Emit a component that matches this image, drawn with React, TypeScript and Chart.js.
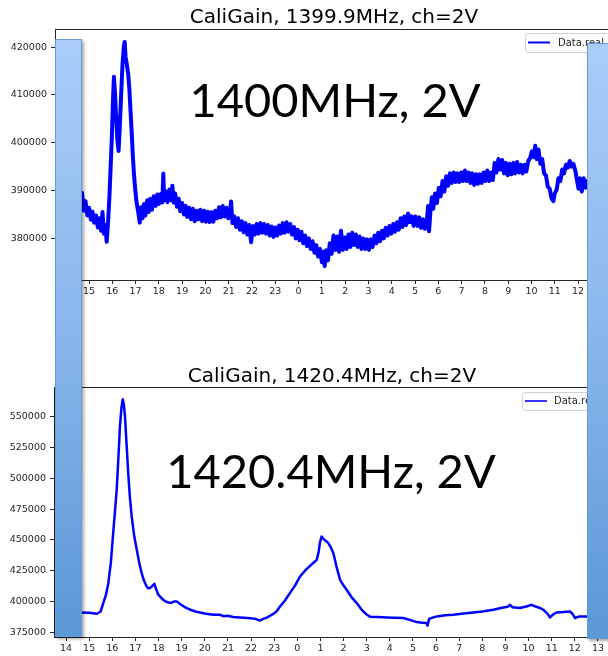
import React, { useEffect, useRef } from "react";
import { Chart, registerables } from "chart.js";

Chart.register(...registerables);

// ---------- Data ----------
const topTitle = "CaliGain, 1399.9MHz, ch=2V";
const bottomTitle = "CaliGain, 1420.4MHz, ch=2V";
const legendLabel = "Data.real";
const topNote = "1400MHz, 2V";
const bottomNote = "1420.4MHz, 2V";

// hours since midnight of day 1 (values > 24 are next day)
const topHours = [
  14.0, 14.2, 14.4, 14.55, 14.7, 14.78, 14.85, 14.93, 15.0, 15.08, 15.15, 15.22, 15.3, 15.38, 15.45, 15.52, 15.58, 15.64, 15.7, 15.76,
  15.82, 15.88, 15.93, 15.98, 16.03, 16.07, 16.11, 16.16, 16.22, 16.27, 16.32, 16.38, 16.44, 16.5, 16.53, 16.57, 16.62, 16.68, 16.73, 16.78,
  16.83, 16.88, 16.93, 16.98, 17.03, 17.08, 17.13, 17.18, 17.24, 17.3, 17.36, 17.42, 17.5, 17.56, 17.63, 17.7, 17.78, 17.86, 17.93, 18.0,
  18.08, 18.15, 18.19, 18.23, 18.3, 18.37, 18.45, 18.52, 18.58, 18.64, 18.7, 18.78, 18.85, 18.92, 19.0, 19.08, 19.15, 19.22, 19.3, 19.38,
  19.46, 19.54, 19.62, 19.7, 19.78, 19.86, 19.94, 20.02, 20.1, 20.18, 20.26, 20.34, 20.42, 20.5, 20.58, 20.66, 20.74, 20.82, 20.9, 20.98,
  21.06, 21.1, 21.16, 21.24, 21.32, 21.4, 21.48, 21.56, 21.64, 21.72, 21.8, 21.88, 21.96, 22.04, 22.12, 22.2, 22.28, 22.36, 22.44, 22.52,
  22.6, 22.68, 22.76, 22.84, 22.92, 23.0, 23.08, 23.16, 23.24, 23.32, 23.4, 23.48, 23.56, 23.64, 23.72, 23.8, 23.88, 23.96, 24.04, 24.12,
  24.2, 24.28, 24.36, 24.44, 24.52, 24.6, 24.68, 24.76, 24.84, 24.92, 25.0, 25.06, 25.12, 25.18, 25.26, 25.34, 25.42, 25.5, 25.58, 25.66,
  25.74, 25.82, 25.9, 25.98, 26.06, 26.14, 26.22, 26.3, 26.38, 26.46, 26.54, 26.62, 26.7, 26.78, 26.86, 26.94, 27.02, 27.1, 27.18, 27.26,
  27.34, 27.42, 27.5, 27.58, 27.66, 27.74, 27.82, 27.9, 27.98, 28.06, 28.14, 28.22, 28.3, 28.38, 28.46, 28.54, 28.62, 28.7, 28.78, 28.86,
  28.94, 29.02, 29.1, 29.18, 29.26, 29.34, 29.42, 29.5, 29.56, 29.6, 29.66, 29.72, 29.78, 29.86, 29.94, 30.02, 30.1, 30.18, 30.26, 30.34,
  30.42, 30.5, 30.58, 30.66, 30.74, 30.82, 30.9, 30.98, 31.06, 31.14, 31.22, 31.3, 31.38, 31.46, 31.54, 31.62, 31.7, 31.78, 31.86, 31.94,
  32.02, 32.1, 32.18, 32.26, 32.34, 32.42, 32.5, 32.58, 32.66, 32.74, 32.82, 32.9, 32.98, 33.06, 33.14, 33.22, 33.3, 33.38, 33.46, 33.54,
  33.62, 33.7, 33.78, 33.86, 33.94, 34.02, 34.1, 34.16, 34.22, 34.3, 34.38, 34.46, 34.54, 34.62, 34.7, 34.78, 34.86, 34.94, 35.0, 35.08,
  35.16, 35.24, 35.32, 35.4, 35.48, 35.56, 35.64, 35.72, 35.8, 35.88, 35.96, 36.02, 36.08, 36.16, 36.24, 36.32, 36.4, 36.5,
];
const topValues = [
  388500, 387000, 389000, 386800, 389500, 385800, 387800, 384800, 386400, 383900, 385600, 383300, 384800, 382300, 384200, 381600, 385500, 381000, 382800, 379300,
  383500, 389000, 395000, 401000, 409000, 413800, 411000, 406000, 400500, 398300, 403000, 410000, 416500, 420300, 421100, 418000, 416500, 414500, 411500, 407000,
  402500, 397500, 393500, 390500, 388000, 386500, 385000, 383300, 386500, 384200, 387200, 384800, 388000, 385500, 388300, 386000, 388800, 386800, 389200, 387200,
  389300, 387500, 393600, 388000, 389800, 387600, 390200, 388000, 391000, 387500, 389400, 386600, 388300, 385700, 387400, 385000, 386800, 384500, 386400, 384000,
  386200, 383600, 385800, 384000, 386000, 383600, 385800, 383500, 385600, 383400, 385500, 383500, 385800, 384200, 386500, 384400, 386800, 384600, 386400, 384200,
  386000, 387700, 383200, 384600, 382400, 384200, 381800, 383600, 381300, 383200, 380800, 382800, 379200, 382600, 380800, 383000, 381000, 383200, 381200, 383000,
  381000, 382800, 380600, 382500, 380300, 382300, 380600, 382700, 381000, 383200, 381200, 383400, 381400, 383000, 380800, 382400, 380000, 381800, 379600, 381400,
  379000, 380600, 378400, 380000, 377800, 379400, 377000, 378600, 376200, 377800, 375000, 377200, 374200, 377500, 375400, 379000, 376800, 380600, 377600, 380400,
  377200, 381600, 377600, 380200, 377800, 380800, 378200, 381200, 378600, 380800, 378200, 380400, 377800, 380000, 377800, 379800, 377600, 379800, 378200, 380600,
  379000, 381200, 379400, 381600, 380000, 382200, 380600, 382600, 381000, 383000, 381400, 383400, 381800, 384200, 382400, 384600, 382800, 385200, 383400, 384600,
  382600, 384600, 382600, 384400, 382200, 384000, 382000, 383200, 386800, 381500, 385600, 388600, 386200, 389400, 387400, 390600, 388800, 392000, 389800, 393000,
  391000, 393600, 391600, 393800, 391800, 393600, 391800, 393800, 392000, 394200, 392000, 393800, 391600, 393600, 391200, 393400, 391400, 393400, 391600, 393800,
  392000, 394200, 392000, 393800, 392200, 395800, 393800, 396600, 394400, 396400, 393600, 395800, 393200, 395600, 393400, 395800, 393600, 396000, 393800, 395400,
  393600, 395400, 394000, 396200, 396800, 398200, 397000, 399400, 396600, 398600, 395600, 396600, 393600, 393200, 390800, 390400, 388400, 387800, 389400, 390200,
  392600, 392000, 394400, 393600, 395400, 394800, 396200, 395000, 395600, 394200, 392000, 390400, 392600, 389800, 392600, 390600, 392000, 390500,
];

const bottomHours = [
  13.48, 13.7, 14.0, 14.3, 14.68, 15.0, 15.33, 15.5, 15.61, 15.72, 15.83, 15.94, 16.05, 16.12, 16.19, 16.26, 16.33, 16.4, 16.45, 16.5,
  16.55, 16.62, 16.69, 16.76, 16.84, 16.95, 17.06, 17.17, 17.27, 17.38, 17.49, 17.56, 17.63, 17.72, 17.82, 17.9, 17.98, 18.06, 18.2, 18.3,
  18.42, 18.55, 18.68, 18.79, 18.95, 19.1, 19.22, 19.4, 19.6, 19.79, 20.0, 20.2, 20.4, 20.66, 20.8, 21.0, 21.23, 21.5, 21.7, 21.96,
  22.15, 22.3, 22.39, 22.5, 22.65, 22.82, 23.0, 23.1, 23.25, 23.45, 23.68, 23.9, 24.12, 24.35, 24.55, 24.7, 24.84, 24.92, 24.98, 25.05,
  25.15, 25.25, 25.34, 25.45, 25.56, 25.7, 25.85, 26.0, 26.13, 26.35, 26.57, 26.8, 27.0, 27.14, 27.5, 27.86, 28.2, 28.58, 28.9, 29.16,
  29.4, 29.59, 29.63, 29.7, 29.85, 30.03, 30.4, 30.74, 31.2, 31.61, 32.0, 32.47, 32.85, 33.1, 33.2, 33.3, 33.63, 33.9, 34.13, 34.3,
  34.5, 34.64, 34.8, 34.93, 35.05, 35.21, 35.5, 35.79, 35.9, 36.01, 36.2, 36.51, 36.8,
];
const bottomValues = [
  393500, 392000, 391500, 391000, 391200, 391000, 390150, 392000, 398800, 405000, 415000, 432000, 458200, 474000, 490600, 515000, 541900, 558000, 564100, 560000,
  550000, 527000, 504100, 485000, 469000, 453000, 442000, 431000, 423100, 416500, 412300, 410800, 411000, 412500, 414450, 410000, 406000, 404170, 401500, 400200,
  399300, 399000, 400200, 400100, 397800, 396000, 394800, 393200, 392000, 391200, 390300, 389800, 389300, 389350, 388200, 388500, 387500, 387200, 387000, 386600,
  386200, 385200, 384700, 385800, 386800, 388500, 390500, 392000, 396050, 400500, 406900, 413000, 420400, 425500, 429000, 431500, 433900, 440000, 448000, 452800,
  450500, 449000, 447400, 444000, 439300, 428000, 417700, 413000, 409600, 403500, 398800, 393000, 389500, 387800, 387500, 387200, 387000, 386700, 385000, 383400,
  382800, 382600, 380500, 386000, 387000, 388000, 389000, 389350, 390300, 391200, 392000, 393400, 395000, 395800, 397400, 395500, 394800, 396000, 397400, 396000,
  394800, 393400, 390500, 387200, 389500, 391200, 391500, 392000, 390000, 386700, 388000, 388000, 388000,
];

const topYTicks = [380000, 390000, 400000, 410000, 420000];
const bottomYTicks = [375000, 400000, 425000, 450000, 475000, 500000, 525000, 550000];

// ---------- helpers ----------
const TICK_COLOR = "#262626";
const FONT = "DejaVu Sans";

const decoPlugin = {
  id: "deco",
  afterDraw(chart: any, _args: any, opts: any) {
    const { ctx, chartArea } = chart;
    const { left, right, top, bottom } = chartArea;
    ctx.save();
    // top & right spines
    ctx.strokeStyle = TICK_COLOR;
    ctx.lineWidth = 1;
    ctx.beginPath();
    ctx.moveTo(left, top + 0.5);
    ctx.lineTo(right, top + 0.5);
    ctx.moveTo(right - 0.5, top);
    ctx.lineTo(right - 0.5, bottom);
    ctx.stroke();
    // title
    ctx.fillStyle = "#000";
    ctx.font = `20px "${FONT}"`;
    ctx.textAlign = "center";
    ctx.textBaseline = "alphabetic";
    ctx.fillText(opts.title, (left + right) / 2, opts.titleY);
    // legend
    const lg = opts.legend;
    ctx.beginPath();
    const r = 3;
    const x = lg.x, y = lg.y, w = lg.w, h = lg.h;
    ctx.moveTo(x + r, y);
    ctx.lineTo(x + w - r, y);
    ctx.quadraticCurveTo(x + w, y, x + w, y + r);
    ctx.lineTo(x + w, y + h - r);
    ctx.quadraticCurveTo(x + w, y + h, x + w - r, y + h);
    ctx.lineTo(x + r, y + h);
    ctx.quadraticCurveTo(x, y + h, x, y + h - r);
    ctx.lineTo(x, y + r);
    ctx.quadraticCurveTo(x, y, x + r, y);
    ctx.closePath();
    ctx.fillStyle = "rgba(255,255,255,0.85)";
    ctx.fill();
    ctx.strokeStyle = "#d0d0d0";
    ctx.lineWidth = 1;
    ctx.stroke();
    ctx.strokeStyle = "#0000ff";
    ctx.lineWidth = lg.lw;
    ctx.beginPath();
    ctx.moveTo(lg.lx0, lg.ly);
    ctx.lineTo(lg.lx1, lg.ly);
    ctx.stroke();
    ctx.fillStyle = TICK_COLOR;
    ctx.font = `10px "${FONT}"`;
    ctx.textAlign = "left";
    ctx.textBaseline = "middle";
    ctx.fillText(opts.legendText, lg.tx, lg.ly + 0.5);
    ctx.restore();
  },
};

function makeChart(
  canvas: HTMLCanvasElement,
  hours: number[],
  values: number[],
  cfg: any
) {
  return new Chart(canvas, {
    type: "line",
    data: {
      datasets: [
        {
          data: hours.map((h, i) => ({ x: h, y: values[i] })),
          borderColor: "#0000ff",
          borderWidth: cfg.lineWidth,
          pointRadius: 0,
          tension: 0,
          fill: false,
          borderJoinStyle: "round",
        },
      ],
    },
    options: {
      responsive: false,
      animation: false,
      devicePixelRatio: 1,
      layout: { padding: { top: cfg.padTop, right: cfg.padRight, left: 0, bottom: 0 } },
      plugins: {
        legend: { display: false },
        title: { display: false },
        tooltip: { enabled: false },
        deco: cfg.deco,
      } as any,
      scales: {
        x: {
          type: "linear",
          min: cfg.xMin,
          max: cfg.xMax,
          afterFit: (s: any) => {
            s.height = cfg.xAxisH;
          },
          ticks: {
            stepSize: 1,
            includeBounds: false,
            autoSkip: false,
            maxRotation: 0,
            padding: 2,
            color: TICK_COLOR,
            font: { family: FONT, size: 9.5 },
            callback: (v: any) => String(((Math.round(Number(v)) % 24) + 24) % 24),
          },
          grid: { drawOnChartArea: false, drawTicks: true, tickLength: 4, color: TICK_COLOR },
          border: { display: true, color: TICK_COLOR, width: 1 },
        },
        y: {
          type: "linear",
          min: cfg.yMin,
          max: cfg.yMax,
          afterFit: (s: any) => {
            s.width = cfg.yAxisW;
          },
          afterBuildTicks: (s: any) => {
            s.ticks = cfg.yTicks.map((v: number) => ({ value: v }));
          },
          ticks: {
            autoSkip: false,
            padding: 4,
            color: TICK_COLOR,
            font: { family: FONT, size: 9.5 },
            callback: (v: any) => String(v),
          },
          grid: { drawOnChartArea: false, drawTicks: true, tickLength: 4, color: TICK_COLOR },
          border: { display: true, color: TICK_COLOR, width: 1 },
        },
      },
    } as any,
    plugins: [decoPlugin],
  });
}

const barStyle = (left: number, top: number, height: number, width: number): React.CSSProperties => ({
  position: "absolute",
  left,
  top,
  width,
  height,
  boxSizing: "border-box",
  border: "1.5px solid #6a9bd6",
  background: "linear-gradient(to bottom, #aacdf9 0%, #8cb9ee 45%, #5a98d6 100%)",
  boxShadow: "2px 2px 3px rgba(0,0,0,0.35)",
});

const noteStyle = (top: number, centerX: number): React.CSSProperties => ({
  position: "absolute",
  left: centerX - 250,
  width: 500,
  top,
  textAlign: "center",
  fontFamily: "Lato, 'Open Sans', sans-serif",
  fontSize: 47,
  lineHeight: "47px",
  color: "#000",
  whiteSpace: "nowrap",
});

export default function App() {
  const topRef = useRef<HTMLCanvasElement>(null);
  const botRef = useRef<HTMLCanvasElement>(null);

  useEffect(() => {
    const c1 = makeChart(topRef.current!, topHours, topValues, {
      lineWidth: 4,
      padTop: 29,
      padRight: 27,
      xAxisH: 20,
      yAxisW: 55,
      xMin: 13.54,
      xMax: 37.5,
      yMin: 371300,
      yMax: 423800,
      yTicks: topYTicks,
      deco: {
        title: topTitle,
        titleY: 22.5,
        legendText: legendLabel,
        legend: { x: 525.5, y: 33.5, w: 92, h: 19, lx0: 528, lx1: 550, ly: 42.5, lw: 2, tx: 558 },
      },
    });
    const c2 = makeChart(botRef.current!, bottomHours, bottomValues, {
      lineWidth: 2.5,
      padTop: 28,
      padRight: 30,
      xAxisH: 21,
      yAxisW: 54,
      xMin: 13.48,
      xMax: 37.52,
      yMin: 371300,
      yMax: 574100,
      yTicks: bottomYTicks,
      deco: {
        title: bottomTitle,
        titleY: 22.5,
        legendText: legendLabel,
        legend: { x: 522.5, y: 33.5, w: 92, h: 18, lx0: 525, lx1: 547, ly: 42, lw: 1.6, tx: 554 },
      },
    });
    return () => {
      c1.destroy();
      c2.destroy();
    };
  }, []);

  return (
    <div
      style={{
        position: "fixed",
        left: 0,
        top: 0,
        width: 608,
        height: 656,
        overflow: "hidden",
        background: "#fff",
      }}
    >
      <canvas
        ref={topRef}
        width={640}
        height={300}
        style={{ position: "absolute", left: 0, top: 0, width: 640, height: 300 }}
      />
      <canvas
        ref={botRef}
        width={640}
        height={299}
        style={{ position: "absolute", left: 0, top: 359, width: 640, height: 299 }}
      />
      <div style={noteStyle(76, 335)}>{topNote}</div>
      <div style={noteStyle(447, 331)}>{bottomNote}</div>
      <div style={barStyle(55, 39, 598, 27)} />
      <div style={barStyle(587, 43, 596, 30)} />
    </div>
  );
}
